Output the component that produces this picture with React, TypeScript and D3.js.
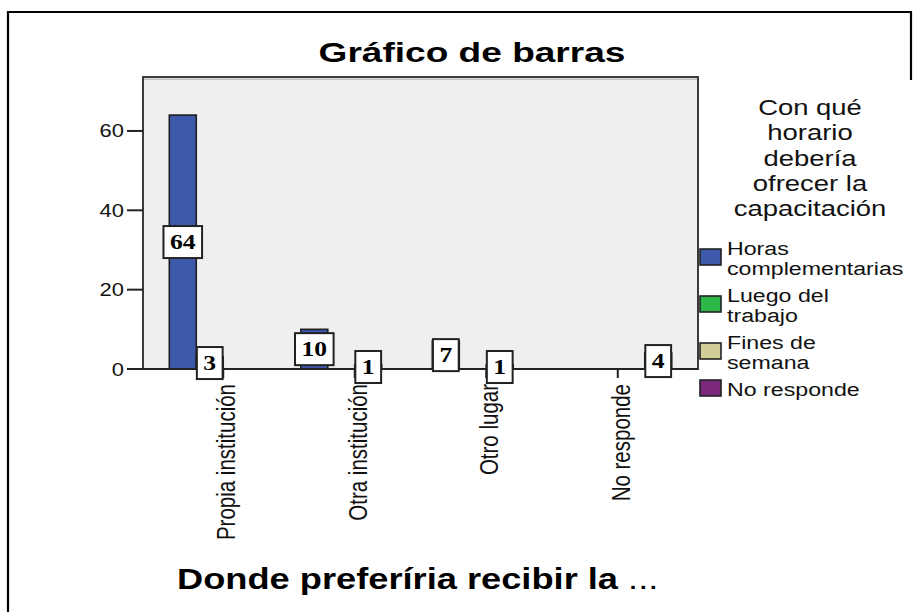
import * as d3 from "d3";

// data
const categories = ["Propia institución", "Otra institución", "Otro lugar", "No responde"];
const seriesNames = ["Horas complementarias", "Luego del trabajo", "Fines de semana", "No responde"];
const horasComplementarias = [64, 10, 7, 0];
const luegoDelTrabajo = [3, 0, 0, 0];
const finesDeSemana = [0, 1, 1, 0];
const noResponde = [0, 0, 0, 4];
const yTicks = [0, 20, 40, 60];
const legendTitle = ["Con qué", "horario", "debería", "ofrecer la", "capacitación"];
const legendLabels = [["Horas", "complementarias"], ["Luego del", "trabajo"], ["Fines de", "semana"], ["No responde"]];
const colors = ["#3e58ac", "#2eb848", "#d3ce97", "#7c287d"];

const W = 920;
const H = 612;
const plot = { left: 143, right: 698, top: 77, bottom: 369 };
const SX = 1.22; // the source picture is stretched sideways
const sans = "'Liberation Sans', Arial, sans-serif";
const serif = "'Liberation Serif', 'Times New Roman', serif";

const seriesValues = [horasComplementarias, luegoDelTrabajo, finesDeSemana, noResponde];

function Wide({ x, y, sx = SX, children, ...rest }: any) {
  return (
    <text transform={`translate(${x},${y}) scale(${sx},1)`} {...rest}>
      {children}
    </text>
  );
}

export default function App() {
  const x0 = d3
    .scaleBand<string>()
    .domain(categories)
    .range([plot.left, plot.right])
    .paddingInner(0.18)
    .paddingOuter(0.2);
  const x1 = d3.scaleBand<string>().domain(seriesNames).range([0, x0.bandwidth()]);
  const y = d3.scaleLinear().domain([0, 73.6]).range([plot.bottom, plot.top]);

  const bars = categories
    .flatMap((c, ci) => seriesNames.map((s, si) => ({ c, s, si, v: seriesValues[si][ci] })))
    .filter((d) => d.v > 0);

  // legend blocks
  let top = 240;
  const legendItems = legendLabels.map((lines, i) => {
    const item = { lines, i, top };
    top += lines.length * 20 + 7;
    return item;
  });

  return (
    <svg
      width={W}
      height={H}
      style={{ position: "absolute", left: 0, top: 0, background: "#fff" }}
    >
      {/* frame */}
      <path d={`M8,${H} V12 H911 V80`} fill="none" stroke="#000" strokeWidth={2.2} />

      {/* title */}
      <Wide x={472} y={62} sx={1.3} textAnchor="middle" fontFamily={sans} fontWeight="bold" fontSize={28.5}>
        Gráfico de barras
      </Wide>

      {/* plot area */}
      <rect
        x={plot.left}
        y={plot.top}
        width={plot.right - plot.left}
        height={plot.bottom - plot.top}
        fill="#efefef"
        stroke="#3a3a3a"
        strokeWidth={2}
      />
      <line x1={plot.left + 1} x2={plot.right - 1} y1={plot.top + 2.2} y2={plot.top + 2.2} stroke="#aaa" strokeWidth={1} />

      {/* y axis */}
      {yTicks.map((t) => (
        <g key={t}>
          <line x1={127} x2={plot.left} y1={y(t)} y2={y(t)} stroke="#222" strokeWidth={2} />
          <Wide x={124} y={y(t) + 6.5} textAnchor="end" fontFamily={sans} fontSize={18} fill="#111">
            {t}
          </Wide>
        </g>
      ))}

      {/* bars */}
      {bars.map((d) => (
        <rect
          key={d.c + d.s}
          x={(x0(d.c) ?? 0) + (x1(d.s) ?? 0)}
          y={y(d.v)}
          width={x1.bandwidth()}
          height={y(0) - y(d.v)}
          fill={colors[d.si]}
          stroke="#1e1e1e"
          strokeWidth={1.6}
        />
      ))}

      {/* x axis */}
      <line x1={plot.left} x2={plot.right} y1={plot.bottom} y2={plot.bottom} stroke="#222" strokeWidth={2} />
      {categories.map((c) => {
        const cx = (x0(c) ?? 0) + x0.bandwidth() / 2;
        return (
          <g key={c}>
            <line x1={cx} x2={cx} y1={plot.bottom} y2={plot.bottom + 9} stroke="#222" strokeWidth={2} />
            <text
              transform={`translate(${cx + 12},${plot.bottom + 15}) scale(${SX},1) rotate(-90)`}
              textAnchor="end"
              fontFamily={sans}
              fontSize={20.5}
              fill="#111"
            >
              {c}
            </text>
          </g>
        );
      })}

      {/* value labels */}
      {bars.map((d) => {
        const cx = (x0(d.c) ?? 0) + (x1(d.s) ?? 0) + x1.bandwidth() / 2;
        const cy = (y(d.v) + y(0)) / 2;
        const bw = String(d.v).length * 12.8 + 13;
        return (
          <g key={"l" + d.c + d.s}>
            <rect x={cx - bw / 2} y={cy - 16} width={bw} height={32} fill="#fff" stroke="#222" strokeWidth={2} />
            <Wide x={cx} y={cy + 7} textAnchor="middle" fontFamily={serif} fontWeight="bold" fontSize={21}>
              {d.v}
            </Wide>
          </g>
        );
      })}

      {/* legend */}
      {legendTitle.map((t, i) => (
        <Wide key={t} x={810} y={115 + i * 25.3} textAnchor="middle" fontFamily={sans} fontSize={22.5} fill="#111">
          {t}
        </Wide>
      ))}
      {legendItems.map((it) => {
        const mid = it.top + (it.lines.length * 20) / 2 - 3;
        return (
          <g key={it.i}>
            <rect x={700} y={mid - 8} width={21} height={16} fill={colors[it.i]} stroke="#222" strokeWidth={1.6} />
            {it.lines.map((l, j) => (
              <Wide key={l} x={727} y={it.top + 15 + j * 20} fontFamily={sans} fontSize={19} fill="#111">
                {l}
              </Wide>
            ))}
          </g>
        );
      })}

      {/* x axis title */}
      <Wide x={177} y={589} sx={1.25} fontFamily={sans} fontSize={29} fill="#000">
        <tspan fontWeight="bold">Donde preferíria recibir la</tspan>
        <tspan> ...</tspan>
      </Wide>
    </svg>
  );
}
